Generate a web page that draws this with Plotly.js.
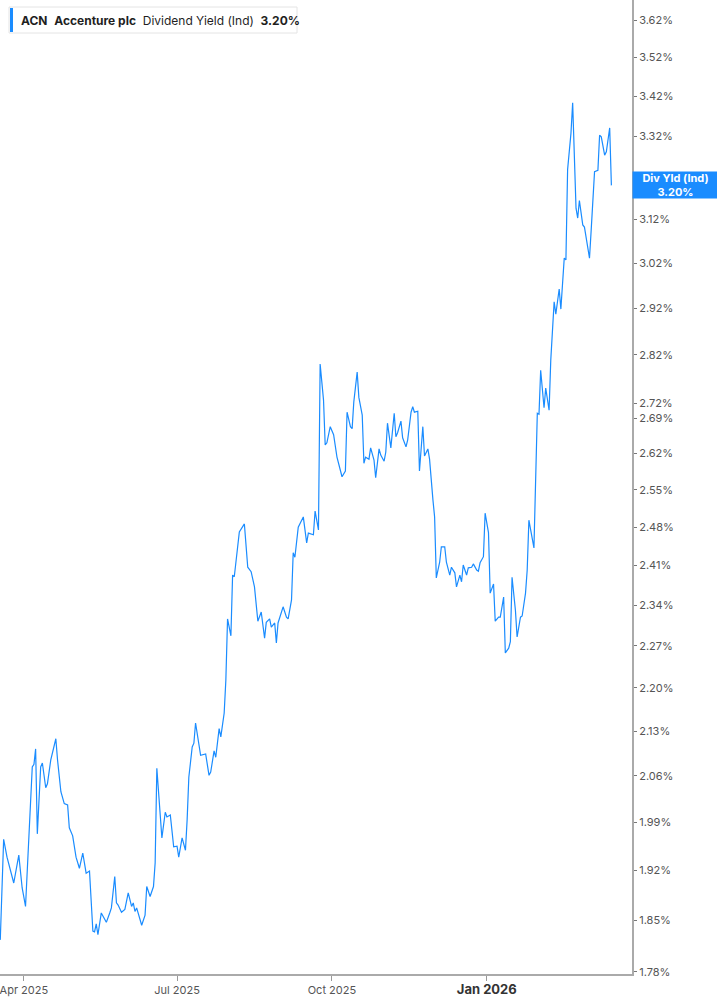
<!DOCTYPE html>
<html>
<head>
<meta charset="utf-8">
<script src="https://cdn.plot.ly/plotly-3.0.1.min.js"></script>
<style>
  html, body { margin: 0; padding: 0; background: #fff; }
  #chart { width: 717px; height: 1005px; }
</style>
</head>
<body>
<div id="chart"></div>
<script>
// ACN indicated dividend yield
var dates = [
  '2025-03-18','2025-03-20','2025-03-22','2025-03-26','2025-03-29','2025-03-31',
  '2025-04-02','2025-04-06','2025-04-07','2025-04-08','2025-04-09','2025-04-11',
  '2025-04-12','2025-04-14','2025-04-15','2025-04-17','2025-04-20','2025-04-21',
  '2025-04-23','2025-04-25','2025-04-27','2025-04-28','2025-04-30',
  '2025-05-02','2025-05-04','2025-05-06','2025-05-08','2025-05-10','2025-05-12',
  '2025-05-13','2025-05-14','2025-05-15','2025-05-17','2025-05-19','2025-05-20',
  '2025-05-22','2025-05-23','2025-05-25','2025-05-26','2025-05-27','2025-05-29',
  '2025-05-31',
  '2025-06-02','2025-06-04','2025-06-05','2025-06-06','2025-06-07','2025-06-10',
  '2025-06-11','2025-06-12','2025-06-13','2025-06-15','2025-06-17','2025-06-18',
  '2025-06-19','2025-06-21','2025-06-22','2025-06-24','2025-06-25','2025-06-27',
  '2025-06-29',
  '2025-07-01','2025-07-02','2025-07-04','2025-07-06','2025-07-07','2025-07-08',
  '2025-07-10','2025-07-11','2025-07-12','2025-07-14','2025-07-15','2025-07-18',
  '2025-07-20','2025-07-21','2025-07-23','2025-07-24','2025-07-26','2025-07-27',
  '2025-07-29','2025-07-30','2025-07-31',
  '2025-08-02','2025-08-03','2025-08-04','2025-08-06','2025-08-07','2025-08-10',
  '2025-08-12','2025-08-14','2025-08-15','2025-08-16','2025-08-18','2025-08-20',
  '2025-08-22','2025-08-23','2025-08-25','2025-08-26','2025-08-28','2025-08-29',
  '2025-08-30',
  '2025-09-01','2025-09-02','2025-09-04','2025-09-05','2025-09-07','2025-09-08',
  '2025-09-09','2025-09-11','2025-09-14','2025-09-16','2025-09-17','2025-09-20',
  '2025-09-21','2025-09-23','2025-09-24','2025-09-26','2025-09-27','2025-09-28',
  '2025-09-30',
  '2025-10-02','2025-10-04','2025-10-06','2025-10-07','2025-10-09','2025-10-10',
  '2025-10-12','2025-10-13','2025-10-14','2025-10-16','2025-10-17','2025-10-19',
  '2025-10-20','2025-10-21','2025-10-23','2025-10-24','2025-10-26','2025-10-27',
  '2025-10-29','2025-10-30',
  '2025-11-01','2025-11-02','2025-11-03','2025-11-05','2025-11-07','2025-11-08',
  '2025-11-09','2025-11-11','2025-11-12','2025-11-14','2025-11-15','2025-11-17',
  '2025-11-18','2025-11-19','2025-11-21','2025-11-22','2025-11-24','2025-11-25',
  '2025-11-27','2025-11-28','2025-11-30',
  '2025-12-01','2025-12-02','2025-12-04','2025-12-05','2025-12-07','2025-12-08',
  '2025-12-10','2025-12-11','2025-12-13','2025-12-14','2025-12-16','2025-12-17',
  '2025-12-18','2025-12-20','2025-12-21','2025-12-23','2025-12-24','2025-12-26',
  '2025-12-27','2025-12-28','2025-12-30','2025-12-31',
  '2026-01-02','2026-01-03','2026-01-05','2026-01-06','2026-01-08','2026-01-09',
  '2026-01-11','2026-01-12','2026-01-14','2026-01-15','2026-01-16','2026-01-18',
  '2026-01-19','2026-01-21','2026-01-22','2026-01-24','2026-01-25','2026-01-26',
  '2026-01-28','2026-01-29','2026-01-31',
  '2026-02-01','2026-02-02','2026-02-04','2026-02-05','2026-02-07','2026-02-08',
  '2026-02-10','2026-02-11','2026-02-13','2026-02-14','2026-02-16','2026-02-17',
  '2026-02-18','2026-02-20','2026-02-21','2026-02-23','2026-02-24','2026-02-25',
  '2026-02-27','2026-02-28',
  '2026-03-02','2026-03-03','2026-03-04','2026-03-06','2026-03-08','2026-03-09',
  '2026-03-10','2026-03-12','2026-03-13','2026-03-15','2026-03-16'
];

var yields = [
  1.823,1.965,1.939,1.902,1.942,1.895,
  1.869,2.074,2.078,2.102,1.973,2.074,
  2.080,2.042,2.048,2.085,2.118,2.085,
  2.036,2.018,2.016,1.982,1.970,
  1.939,1.923,1.945,1.916,1.919,1.835,
  1.834,1.845,1.830,1.860,1.851,1.847,
  1.860,1.867,1.911,1.874,1.871,1.861,
  1.865,
  1.888,1.869,1.874,1.862,1.867,1.843,
  1.851,1.857,1.897,1.883,1.897,1.931,
  2.072,2.005,1.967,2.005,1.998,2.001,
  1.954,
  1.955,1.939,1.967,1.949,1.994,2.058,
  2.105,2.111,2.143,2.113,2.092,2.094,
  2.061,2.066,2.099,2.089,2.134,2.121,
  2.159,2.213,2.316,
  2.287,2.393,2.390,2.447,2.471,2.486,
  2.407,2.399,2.385,2.372,2.312,2.328,
  2.283,2.310,2.316,2.302,2.309,2.275,
  2.309,
  2.326,2.337,2.319,2.316,2.349,2.433,
  2.425,2.480,2.499,2.451,2.469,2.466,
  2.510,2.475,2.801,2.727,2.637,2.641,
  2.673,
  2.657,2.613,2.584,2.575,2.586,2.702,
  2.673,2.669,2.723,2.784,2.732,2.696,
  2.601,2.613,2.609,2.631,2.607,2.573,
  2.629,2.617,
  2.605,2.623,2.680,2.631,2.700,2.653,
  2.661,2.684,2.651,2.633,2.647,2.702,
  2.713,2.702,2.704,2.586,2.673,2.615,
  2.629,2.609,2.531,
  2.499,2.388,2.416,2.444,2.444,2.416,
  2.393,2.407,2.397,2.372,2.393,2.381,
  2.411,2.393,2.406,2.407,2.413,2.402,
  2.400,2.415,2.426,2.506,
  2.470,2.361,2.377,2.312,2.319,2.319,
  2.354,2.258,2.266,2.277,2.389,2.331,
  2.285,2.319,2.321,2.361,2.402,2.493,
  2.462,2.442,2.700,
  2.698,2.788,2.711,2.751,2.706,2.809,
  2.934,2.907,2.962,2.918,3.031,3.027,
  3.238,3.327,3.403,3.146,3.123,3.164,
  3.107,3.102,
  3.052,3.031,3.095,3.233,3.236,3.322,
  3.318,3.273,3.281,3.340,3.200
];

var yTicks = [1.78,1.85,1.92,1.99,2.06,2.13,2.20,2.27,2.34,2.41,2.48,2.55,
              2.62,2.69,2.72,2.82,2.92,3.02,3.12,3.32,3.42,3.52,3.62];
var xTicks = ['2025-04-01','2025-07-01','2025-10-01','2026-01-01'];
var xTickText = ['Apr 2025','Jul 2025','Oct 2025',
                 '<span style="font-size:13px;font-weight:bold;fill:#333">Jan 2026</span>'];

var lastYield = yields[yields.length - 1];
var blue = '#1a8cff';
var font = 'Inter, Roboto, "Noto Sans", sans-serif';
var gap = '\u00a0\u00a0';

var trace = {
  x: dates,
  y: yields,
  type: 'scatter',
  mode: 'lines',
  line: {color: blue, width: 1.2},
  hoverinfo: 'x+y'
};

var layout = {
  width: 717,
  height: 1005,
  margin: {l: 0, r: 85, t: 0, b: 31},
  paper_bgcolor: '#fff',
  plot_bgcolor: '#fff',
  showlegend: false,
  font: {family: font, size: 11, color: '#555'},
  xaxis: {
    type: 'date',
    range: ['2025-03-17 20:00', '2026-03-28 06:00'],
    tickvals: xTicks,
    ticktext: xTickText,
    ticks: 'outside',
    ticklen: 5,
    tickcolor: '#999',
    ticklabeloverflow: 'allow',
    showline: true,
    linecolor: '#aaa',
    linewidth: 1.5,
    showgrid: false,
    zeroline: false,
    tickfont: {family: font, size: 11, color: '#555'}
  },
  yaxis: {
    type: 'log',
    side: 'right',
    range: [Math.log10(1.7772), Math.log10(3.6744)],
    tickvals: yTicks,
    ticktext: yTicks.map(function (v) { return v.toFixed(2) + '%'; }),
    ticks: 'outside',
    ticklen: 3,
    tickcolor: '#777',
    showline: true,
    linecolor: '#aaa',
    linewidth: 2,
    showgrid: false,
    zeroline: false,
    tickfont: {family: font, size: 11, color: '#555'}
  },
  shapes: [
    {
      type: 'rect', xref: 'paper', yref: 'paper',
      xsizemode: 'pixel', ysizemode: 'pixel', xanchor: 0, yanchor: 1,
      x0: 9, x1: 297, y0: -33, y1: -7,
      fillcolor: '#fff', line: {color: '#e4e4e4', width: 1}
    },
    {
      type: 'rect', xref: 'paper', yref: 'paper',
      xsizemode: 'pixel', ysizemode: 'pixel', xanchor: 0, yanchor: 1,
      x0: 10, x1: 13, y0: -32, y1: -8,
      fillcolor: blue, line: {width: 0}
    }
  ],
  annotations: [
    {
      xref: 'paper', yref: 'paper', x: 0, y: 1,
      xanchor: 'left', yanchor: 'middle', xshift: 19, yshift: -20,
      showarrow: false,
      text: '<b>ACN</b>' + gap + '<b>Accenture plc</b>' + gap + 'Dividend Yield (Ind)' + gap + '<b>' +
            lastYield.toFixed(2) + '%</b>',
      font: {family: font, size: 12, color: '#1f1f1f'}
    },
    {
      xref: 'paper', yref: 'y', x: 1, y: Math.log10(lastYield),
      xanchor: 'left', yanchor: 'middle', xshift: 0,
      showarrow: false,
      width: 83, height: 24, borderpad: 1,
      bgcolor: blue,
      align: 'center',
      text: '<b>Div Yld (Ind)</b><br><b>' + lastYield.toFixed(2) + '%</b>',
      font: {family: font, size: 11, color: '#fff'}
    }
  ]
};

Plotly.newPlot('chart', [trace], layout, {displayModeBar: false, staticPlot: true});
</script>
</body>
</html>
